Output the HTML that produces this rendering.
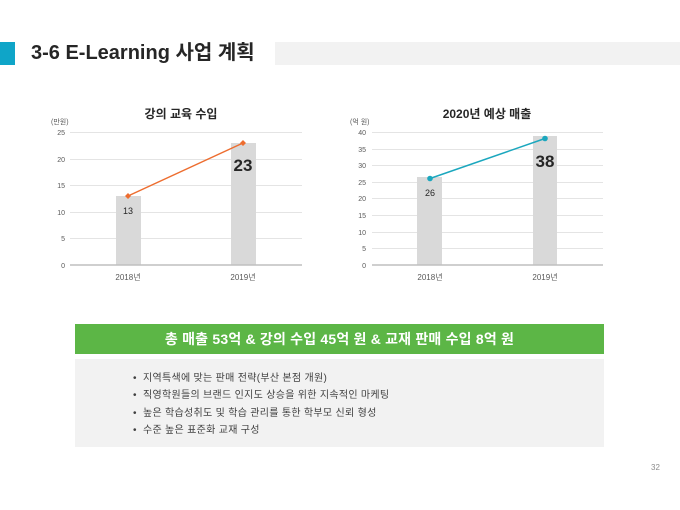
<!DOCTYPE html>
<html><head><meta charset="utf-8"><style>
body{margin:0;width:680px;height:510px;background:#fff;overflow:hidden;position:relative;font-family:"Liberation Sans","Noto Sans CJK KR",sans-serif}
.abs{position:absolute}
</style></head><body>
<div class="abs" style="left:0;top:42px;width:15px;height:23px;background:#0fa5c8"></div>
<div class="abs" style="left:275px;top:42px;width:405px;height:23px;background:#f2f2f2"></div>
<div class="abs" style="left:31px;top:39px;font-size:20px;font-weight:bold;color:#262626;line-height:28px">3-6 E-Learning 사업 계획</div>
<svg class="abs" style="left:0;top:0" width="680" height="300" font-family="Liberation Sans, Noto Sans CJK KR, sans-serif">
<g stroke="#e4e4e4" stroke-width="1">
<line x1="70" x2="302" y1="132.5" y2="132.5"/><line x1="70" x2="302" y1="159.5" y2="159.5"/><line x1="70" x2="302" y1="185.5" y2="185.5"/><line x1="70" x2="302" y1="212.5" y2="212.5"/><line x1="70" x2="302" y1="238.5" y2="238.5"/>
<line x1="372" x2="603" y1="132.5" y2="132.5"/><line x1="372" x2="603" y1="149.5" y2="149.5"/><line x1="372" x2="603" y1="165.5" y2="165.5"/><line x1="372" x2="603" y1="182.5" y2="182.5"/><line x1="372" x2="603" y1="198.5" y2="198.5"/><line x1="372" x2="603" y1="215.5" y2="215.5"/><line x1="372" x2="603" y1="232.5" y2="232.5"/><line x1="372" x2="603" y1="248.5" y2="248.5"/>
</g>
<g fill="#d9d9d9">
<rect x="116" y="196" width="25" height="69"/><rect x="231" y="143" width="25" height="122"/>
<rect x="417" y="177" width="25" height="88"/><rect x="533" y="136" width="24" height="129"/>
</g>
<line x1="70" x2="302" y1="265" y2="265" stroke="#bfbfbf" stroke-width="1.5"/>
<line x1="372" x2="603" y1="265" y2="265" stroke="#bfbfbf" stroke-width="1.5"/>
<g font-size="7" fill="#595959" text-anchor="end">
<text x="65" y="135">25</text><text x="65" y="162">20</text><text x="65" y="188">15</text><text x="65" y="215">10</text><text x="65" y="241">5</text><text x="65" y="268">0</text>
<text x="366" y="135">40</text><text x="366" y="152">35</text><text x="366" y="168">30</text><text x="366" y="185">25</text><text x="366" y="201">20</text><text x="366" y="218">15</text><text x="366" y="235">10</text><text x="366" y="251">5</text><text x="366" y="268">0</text>
</g>
<g font-size="7" fill="#595959">
<text x="51" y="124">(만원)</text><text x="350" y="124">(억 원)</text>
</g>
<g font-size="8" fill="#595959" text-anchor="middle">
<text x="128" y="280">2018년</text><text x="243" y="280">2019년</text>
<text x="430" y="280">2018년</text><text x="545" y="280">2019년</text>
</g>
<g font-size="12" font-weight="bold" fill="#262626" text-anchor="middle">
<text x="181" y="118">강의 교육 수입</text><text x="487" y="118">2020년 예상 매출</text>
</g>
<polyline points="128,196 243,143" stroke="#ed6d2f" stroke-width="1.5" fill="none"/>
<path d="M128,193 L131,196 L128,199 L125,196Z M243,140 L246,143 L243,146 L240,143Z" fill="#ed6d2f"/>
<polyline points="430,178.5 545,138.5" stroke="#1ba7be" stroke-width="1.5" fill="none"/>
<circle cx="430" cy="178.5" r="2.8" fill="#1ba7be"/><circle cx="545" cy="138.5" r="2.8" fill="#1ba7be"/>
<g fill="#262626" text-anchor="middle">
<text x="128" y="214" font-size="9">13</text><text x="243" y="171" font-size="17" font-weight="bold">23</text>
<text x="430" y="196" font-size="9">26</text><text x="545" y="167" font-size="17" font-weight="bold">38</text>
</g>
</svg>
<div class="abs" style="left:75px;top:324px;width:529px;height:30px;background:#5cb646;color:#fff;font-size:14px;font-weight:bold;text-align:center;line-height:30px;letter-spacing:0.2px">총 매출 53억 &amp; 강의 수입 45억 원 &amp; 교재 판매 수입 8억 원</div>
<div class="abs" style="left:75px;top:359px;width:529px;height:88px;background:#f2f2f2"></div>
<div class="abs" style="left:133px;top:370px;font-size:10px;color:#404040;line-height:17.3px;letter-spacing:0.3px">
<div>•&nbsp;&nbsp;지역특색에 맞는 판매 전략(부산 본점 개원)</div>
<div>•&nbsp;&nbsp;직영학원들의 브랜드 인지도 상승을 위한 지속적인 마케팅</div>
<div>•&nbsp;&nbsp;높은 학습성취도 및 학습 관리를 통한 학부모 신뢰 형성</div>
<div>•&nbsp;&nbsp;수준 높은 표준화 교재 구성</div>
</div>
<div class="abs" style="left:651px;top:463px;font-size:8px;color:#8c8c8c">32</div>
</body></html>
